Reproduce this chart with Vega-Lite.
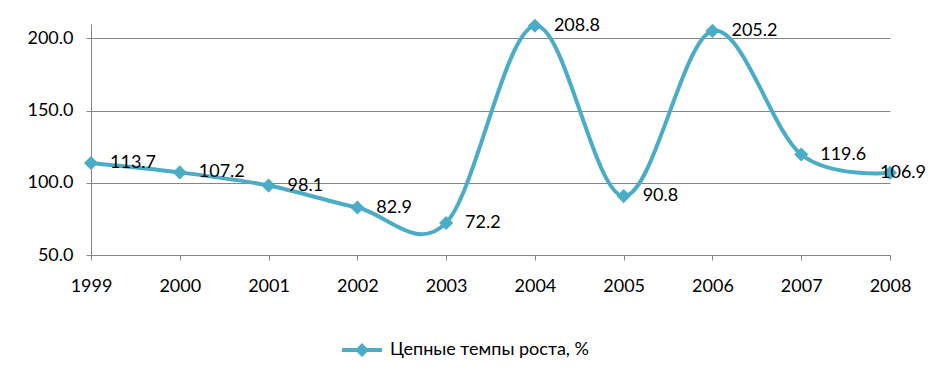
{
  "$schema": "https://vega.github.io/schema/vega-lite/v6.json",
  "width": 799,
  "height": 231,
  "autosize": "none",
  "padding": {"left": 91, "top": 24, "right": 45, "bottom": 118},
  "background": "white",
  "config": {
    "view": {"stroke": null},
    "font": "Lato",
    "axis": {"labelFont": "Lato", "labelFontSize": 18, "labelColor": "#000000", "domainColor": "#868686", "tickColor": "#868686", "gridColor": "#868686", "tickSize": 5}
  },
  "data": {"values": [
    {"year": "1999", "value": 113.7, "series": "Цепные темпы роста, %"},
    {"year": "2000", "value": 107.2, "series": "Цепные темпы роста, %"},
    {"year": "2001", "value": 98.1, "series": "Цепные темпы роста, %"},
    {"year": "2002", "value": 82.9, "series": "Цепные темпы роста, %"},
    {"year": "2003", "value": 72.2, "series": "Цепные темпы роста, %"},
    {"year": "2004", "value": 208.8, "series": "Цепные темпы роста, %"},
    {"year": "2005", "value": 90.8, "series": "Цепные темпы роста, %"},
    {"year": "2006", "value": 205.2, "series": "Цепные темпы роста, %"},
    {"year": "2007", "value": 119.6, "series": "Цепные темпы роста, %"},
    {"year": "2008", "value": 106.9, "series": "Цепные темпы роста, %"}
  ]},
  "encoding": {
    "x": {"field": "year", "type": "ordinal", "scale": {"type": "point", "padding": 0},
      "axis": {"title": null, "labelAngle": 0, "grid": false, "labelPadding": 17, "domainWidth": 1}},
    "y": {"field": "value", "type": "quantitative", "scale": {"domain": [50, 210], "nice": false, "zero": false},
      "axis": {"title": null, "values": [50, 100, 150, 200], "format": ".1f", "grid": true, "labelPadding": 13}}
  },
  "layer": [
    {
      "mark": {"type": "line", "interpolate": "cardinal", "strokeWidth": 4, "color": "#4BACC6"},
      "encoding": {
        "color": {"field": "series", "type": "nominal", "scale": {"range": ["#4BACC6"]},
          "legend": {"title": null, "orient": "none", "legendX": 251, "legendY": 306, "symbolType": "M-1,-0.1L1,-0.1L1,0.1L-1,0.1Z M0,-0.35L0.35,0L0,0.35L-0.35,0Z", "symbolSize": 1600, "symbolStrokeWidth": 0, "symbolFillColor": "#4BACC6", "labelFont": "Lato", "labelFontSize": 18, "labelColor": "#000000", "labelLimit": 0, "symbolOffset": 0, "labelOffset": 8}}
      }
    },
    {
      "mark": {"type": "point", "shape": "diamond", "filled": true, "size": 200, "color": "#4BACC6", "opacity": 1}
    },
    {
      "transform": [{"filter": "datum.year != '2008'"}],
      "mark": {"type": "text", "align": "left", "baseline": "middle", "dx": 19, "fontSize": 18, "font": "Lato", "color": "#000000"},
      "encoding": {"text": {"field": "value", "type": "quantitative", "format": ".1f"}}
    },
    {
      "transform": [{"filter": "datum.year == '2008'"}],
      "mark": {"type": "text", "align": "left", "baseline": "middle", "dx": -10, "fontSize": 18, "font": "Lato", "color": "#000000"},
      "encoding": {"text": {"field": "value", "type": "quantitative", "format": ".1f"}}
    }
  ]
}
